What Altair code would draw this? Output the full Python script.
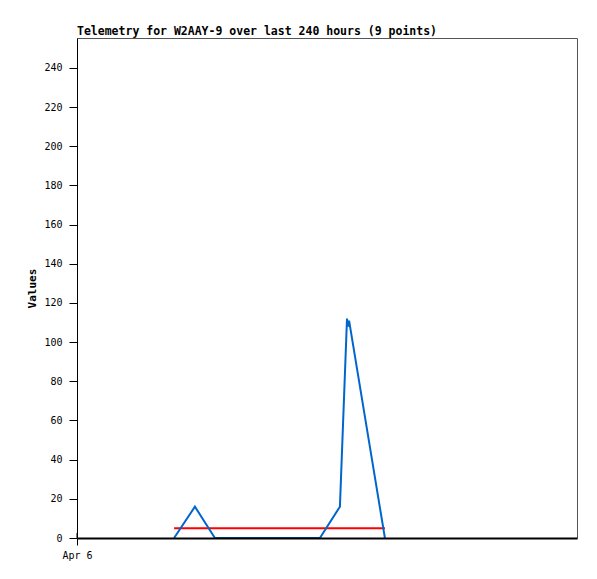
import altair as alt
import pandas as pd

# hours since start of window (Apr 6 00:00), values
hours = [46.6, 56.6, 66.2, 116.6, 126.2, 129.6, 130.1, 130.6, 147.8]
values = [0, 16, 0, 0, 16, 112, 108, 111, 0]
avg_hours = [46.6, 147.8]
avg_values = [5, 5]
x_tick_hours = [0]
x_tick_labels = ["Apr 6"]
y_ticks = list(range(0, 241, 20))

FONT = "DejaVu Sans Mono"

df = pd.DataFrame({"h": hours, "v": values})
avg = pd.DataFrame({"h": avg_hours, "v": avg_values})

xscale = alt.Scale(domain=[0, 240], nice=False, zero=False)
yscale = alt.Scale(domain=[0, 255.3], nice=False)

xaxis = alt.Axis(values=x_tick_hours, labelExpr="'" + x_tick_labels[0] + "'", title=None, grid=False,
                 domainColor="black", domainWidth=2, tickColor="black", tickSize=7,
                 labelFont=FONT, labelFontSize=10, labelColor="black", labelPadding=5,
                 labelAlign="center", labelFlush=False, zindex=2)
yaxis = alt.Axis(values=y_ticks, title="Values", grid=False, domainColor="black",
                 tickColor="black", tickSize=8, labelPadding=7, labelFont=FONT,
                 labelFontSize=10, labelColor="black", titleFont=FONT, titleFontSize=11,
                 titleFontWeight="bold", titleColor="black", titleX=-45, titleY=250,
                 titleAlign="center", titleBaseline="middle", zindex=2)

line = alt.Chart(df).mark_line(color="#0066cc", strokeWidth=2).encode(
    x=alt.X("h:Q", scale=xscale, axis=xaxis),
    y=alt.Y("v:Q", scale=yscale, axis=yaxis),
)
avgline = alt.Chart(avg).mark_line(color="#ff0000", strokeWidth=2).encode(
    x=alt.X("h:Q", scale=xscale),
    y=alt.Y("v:Q", scale=yscale),
)
innertick = alt.Chart(pd.DataFrame({"h": x_tick_hours})).mark_rule(color="black").encode(
    x=alt.X("h:Q", scale=xscale),
    y=alt.value(495), y2=alt.value(500),
)

chart = alt.layer(avgline, line, innertick).properties(
    width=500, height=500,
    autosize=alt.AutoSizeParams(type="none"),
    padding={"left": 69, "top": 30, "right": 12, "bottom": 33},
    title=alt.TitleParams("Telemetry for W2AAY-9 over last 240 hours (9 points)",
                          anchor="start", frame="group", font=FONT, fontSize=11.5,
                          fontWeight="bold", color="black", offset=1),
    background="white",
).configure_view(stroke="#555555", strokeWidth=1)

chart.save("out.html", embed_options={"renderer": "svg", "actions": False})
